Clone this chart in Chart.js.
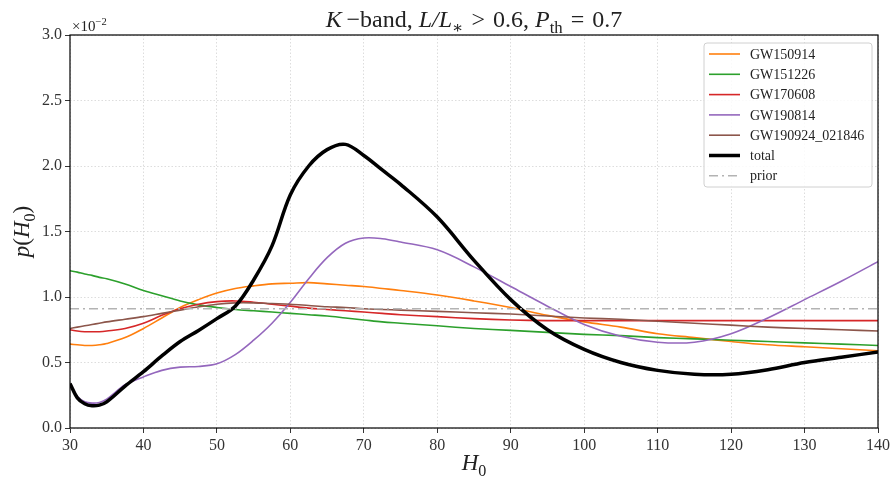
<!DOCTYPE html>
<html>
<head>
<meta charset="utf-8">
<script src="https://cdn.jsdelivr.net/npm/chart.js@4.4.1/dist/chart.umd.min.js"></script>
<style>
  body { margin: 0; background: #fff; }
  #wrap { width: 893px; height: 478px; }
</style>
</head>
<body>
<div id="wrap"><canvas id="chart" width="893" height="478"></canvas></div>
<script>
// H0 sample points (km/s/Mpc), values in units of 1e-2
const h0 = [30, 31, 32, 33, 34, 35, 37.5, 40, 42.5, 45, 47.5, 50, 52.5, 55, 57.5, 60, 62.5, 65, 67.5, 70,
            72.5, 75, 80, 85, 90, 95, 100, 105, 110, 115, 120, 125, 130, 135, 140];

const gw150914 = [0.64, 0.635, 0.63, 0.63, 0.635, 0.645, 0.69, 0.76, 0.84, 0.92, 0.98, 1.03, 1.065, 1.085, 1.10, 1.105, 1.11, 1.10, 1.09, 1.08,
                  1.065, 1.05, 1.015, 0.97, 0.92, 0.86, 0.81, 0.77, 0.72, 0.69, 0.66, 0.635, 0.62, 0.605, 0.59];
const gw151226 = [1.20, 1.19, 1.175, 1.165, 1.15, 1.14, 1.10, 1.05, 1.01, 0.97, 0.94, 0.92, 0.905, 0.895, 0.885, 0.875, 0.865, 0.855, 0.84, 0.825,
                  0.81, 0.80, 0.78, 0.76, 0.745, 0.73, 0.715, 0.705, 0.69, 0.68, 0.67, 0.66, 0.65, 0.64, 0.63];
const gw170608 = [0.75, 0.74, 0.735, 0.735, 0.735, 0.74, 0.76, 0.80, 0.86, 0.91, 0.945, 0.965, 0.97, 0.96, 0.945, 0.93, 0.915, 0.905, 0.895, 0.885,
                  0.875, 0.865, 0.85, 0.835, 0.825, 0.82, 0.82, 0.82, 0.82, 0.82, 0.82, 0.82, 0.82, 0.82, 0.82];
const gw190814 = [0.32, 0.24, 0.20, 0.19, 0.195, 0.22, 0.33, 0.39, 0.44, 0.465, 0.47, 0.49, 0.56, 0.67, 0.80, 0.96, 1.14, 1.30, 1.41, 1.45,
                  1.445, 1.42, 1.36, 1.23, 1.08, 0.93, 0.79, 0.70, 0.655, 0.655, 0.72, 0.84, 0.98, 1.12, 1.27];
const gw190924 = [0.76, 0.77, 0.78, 0.79, 0.80, 0.81, 0.83, 0.85, 0.875, 0.90, 0.925, 0.945, 0.955, 0.955, 0.95, 0.945, 0.935, 0.925, 0.92, 0.91,
                  0.905, 0.90, 0.89, 0.88, 0.87, 0.855, 0.84, 0.83, 0.815, 0.80, 0.785, 0.77, 0.76, 0.75, 0.74];
const total = [0.34, 0.23, 0.185, 0.17, 0.175, 0.20, 0.32, 0.43, 0.55, 0.66, 0.745, 0.835, 0.93, 1.13, 1.39, 1.78, 2.0, 2.125, 2.165, 2.08,
               1.97, 1.86, 1.61, 1.28, 0.98, 0.75, 0.60, 0.50, 0.44, 0.41, 0.41, 0.445, 0.50, 0.54, 0.58];
const priorX = [30, 140];
const priorY = [0.91, 0.91];

const xTicks = [30, 40, 50, 60, 70, 80, 90, 100, 110, 120, 130, 140];
const yTicks = [0.0, 0.5, 1.0, 1.5, 2.0, 2.5, 3.0];

const SERIF = '"Liberation Serif", "DejaVu Serif", serif';

function pts(xs, ys) {
  return xs.map((x, i) => ({ x: x, y: ys[i] }));
}

function line(label, ys, color, width, order) {
  return {
    label: label,
    data: pts(h0, ys),
    borderColor: color,
    borderWidth: width,
    pointRadius: 0,
    tension: 0.35,
    fill: false,
    order: order
  };
}

// draw text made of pieces (italic / subscript / superscript)
function drawRich(ctx, parts, x, y, size, align) {
  const items = parts.map(p => {
    const s = (p.sub || p.sup) ? size * 0.7 : size;
    const font = (p.it ? 'italic ' : '') + s + 'px ' + SERIF;
    ctx.font = font;
    return { p: p, font: font, w: ctx.measureText(p.t).width };
  });
  const total = items.reduce((a, b) => a + b.w, 0);
  let cx = align === 'center' ? x - total / 2 : x;
  items.forEach(it => {
    ctx.font = it.font;
    const dy = it.p.sub ? size * 0.25 : it.p.sup ? -size * 0.4 : 0;
    ctx.fillText(it.p.t, cx, y + dy);
    cx += it.w;
  });
}

const decorations = {
  id: 'decorations',
  afterDraw(chart) {
    const ctx = chart.ctx;
    const a = chart.chartArea;
    ctx.save();
    ctx.setLineDash([]);
    // axes box
    ctx.strokeStyle = '#000';
    ctx.lineWidth = 1.2;
    ctx.strokeRect(a.left, a.top, a.right - a.left, a.bottom - a.top);

    ctx.fillStyle = '#222';
    ctx.textBaseline = 'alphabetic';
    // title
    drawRich(ctx, [
      { t: 'K', it: true }, { t: '\u2009\u2212band, ' },
      { t: 'L/L', it: true }, { t: '\u2217', sub: true }, { t: '\u2004>\u20040.6, ' },
      { t: 'P', it: true }, { t: 'th', sub: true }, { t: '\u2004=\u20040.7' }
    ], 474, 27, 24, 'center');
    // offset text
    drawRich(ctx, [{ t: '\u00d710' }, { t: '\u22122', sup: true }], 72, 31, 15, 'left');
    // x label
    drawRich(ctx, [{ t: 'H', it: true }, { t: '0', sub: true }], (a.left + a.right) / 2, 470, 23, 'center');
    // y label
    ctx.save();
    ctx.translate(29, (a.top + a.bottom) / 2);
    ctx.rotate(-Math.PI / 2);
    drawRich(ctx, [{ t: 'p', it: true }, { t: '(' }, { t: 'H', it: true }, { t: '0', sub: true }, { t: ')' }], 0, 0, 23, 'center');
    ctx.restore();

    // legend
    const lx = 704, ly = 43, lw = 168, lh = 144;
    ctx.fillStyle = 'rgba(255,255,255,0.85)';
    ctx.strokeStyle = '#d0d0d0';
    ctx.lineWidth = 1;
    ctx.beginPath();
    ctx.roundRect(lx, ly, lw, lh, 3);
    ctx.fill();
    ctx.stroke();
    ctx.font = '14px ' + SERIF;
    ctx.textBaseline = 'middle';
    chart.data.datasets.forEach((ds, i) => {
      const y = 54 + i * 20.3;
      ctx.strokeStyle = ds.borderColor;
      ctx.lineWidth = ds.borderWidth;
      ctx.setLineDash(ds.borderDash || []);
      ctx.beginPath();
      ctx.moveTo(709, y);
      ctx.lineTo(740, y);
      ctx.stroke();
      ctx.setLineDash([]);
      ctx.fillStyle = '#222';
      ctx.fillText(ds.label, 750, y + 1);
    });
    ctx.restore();
  }
};

new Chart(document.getElementById('chart').getContext('2d'), {
  type: 'line',
  data: {
    datasets: [
      line('GW150914', gw150914, '#ff7f0e', 1.6, 6),
      line('GW151226', gw151226, '#2ca02c', 1.6, 5),
      line('GW170608', gw170608, '#d62728', 1.6, 4),
      line('GW190814', gw190814, '#9467bd', 1.6, 3),
      line('GW190924_021846', gw190924, '#8c564b', 1.6, 2),
      line('total', total, '#000000', 3.5, 1),
      {
        label: 'prior',
        data: pts(priorX, priorY),
        borderColor: '#b3b3b3',
        borderWidth: 1.6,
        borderDash: [9, 4, 2, 4],
        pointRadius: 0,
        fill: false,
        order: 0
      }
    ]
  },
  options: {
    responsive: false,
    animation: false,
    layout: { padding: { top: 35, right: 15, left: 0, bottom: 0 } },
    plugins: {
      legend: { display: false },
      title: { display: false },
      tooltip: { enabled: false }
    },
    scales: {
      x: {
        type: 'linear',
        min: 30,
        max: 140,
        afterFit(scale) { scale.height = 50; },
        afterBuildTicks(scale) { scale.ticks = xTicks.map(v => ({ value: v })); },
        ticks: { color: '#333', font: { family: SERIF, size: 16 }, padding: 3, maxRotation: 0 },
        grid: { color: '#d4d4d4', lineWidth: 0.8, tickColor: '#000', tickLength: 5, tickBorderDash: [] },
        border: { display: false, dash: [1.5, 2] }
      },
      y: {
        min: 0,
        max: 3,
        afterFit(scale) { scale.width = 70; },
        afterBuildTicks(scale) { scale.ticks = yTicks.map(v => ({ value: v })); },
        ticks: { color: '#333', font: { family: SERIF, size: 16 }, padding: 3, callback: v => v.toFixed(1) },
        grid: { color: '#d4d4d4', lineWidth: 0.8, tickColor: '#000', tickLength: 5, tickBorderDash: [] },
        border: { display: false, dash: [1.5, 2] }
      }
    }
  },
  plugins: [decorations]
});
</script>
</body>
</html>
